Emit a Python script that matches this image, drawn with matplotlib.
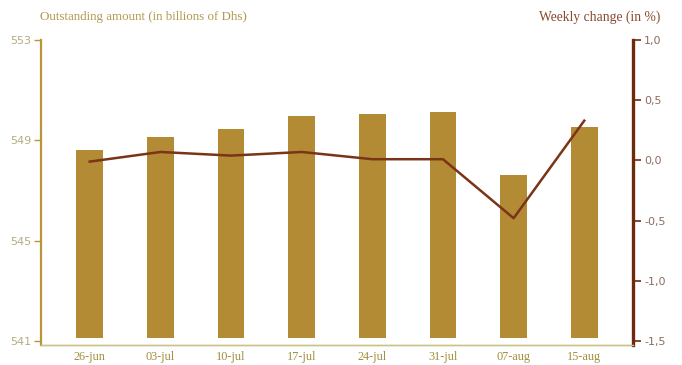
import matplotlib.pyplot as plt
from matplotlib.ticker import FuncFormatter

# Weekly outstanding amount (billions of Dhs) and week-on-week change (%)
weeks = ["26-jun", "03-jul", "10-jul", "17-jul", "24-jul", "31-jul", "07-aug", "15-aug"]
outstanding = [548.61, 549.12, 549.45, 549.96, 550.03, 550.13, 547.63, 549.52]
weekly_change = [-0.01, 0.07, 0.04, 0.07, 0.01, 0.01, -0.48, 0.33]

left_ticks = [541, 545, 549, 553]
right_ticks = [-1.5, -1.0, -0.5, 0.0, 0.5, 1.0]

bar_color = "#b38b35"
line_color = "#7a3418"
left_axis_color = "#b8973c"
right_axis_color = "#6e2a0c"
frame_color = "#c9c389"

fig = plt.figure(figsize=(6.82, 3.65), dpi=100)
ax = fig.add_axes([41 / 682, 1 - 345 / 365, (633 - 41) / 682, (345 - 40) / 365])
ax2 = ax.twinx()

# bars sit a little above the 541 baseline, the frame a little below it
bar_base = 541.1
x = range(len(weeks))
ax.bar(x, [v - bar_base for v in outstanding], bottom=bar_base,
       width=0.38, color=bar_color, zorder=2)
ax2.plot(x, weekly_change, color=line_color, linewidth=1.8, zorder=3)

ax.set_xlim(-0.69, len(weeks) - 0.31)
ax.set_ylim(540.84, 553)
ax2.set_ylim(-1.533, 1.0)
ax.set_yticks(left_ticks)
ax2.set_yticks(right_ticks)
ax2.yaxis.set_major_formatter(FuncFormatter(lambda v, p: f"{v:.1f}".replace(".", ",")))

ax.set_xticks(list(x))
ax.set_xticklabels(weeks, family="Liberation Serif", fontsize=8.8, color="#a08f3c")
ax.tick_params(axis="x", length=0, pad=4)

ax.tick_params(axis="y", direction="out", length=5, width=1, color=left_axis_color,
               labelsize=8, labelcolor="#b7ab82", pad=2)
ax2.tick_params(axis="y", direction="out", length=6, width=1.2, color=right_axis_color,
                labelsize=8, labelcolor="#8c6b5c", pad=2)

for a in (ax, ax2):
    a.spines["top"].set_visible(False)
    a.spines["bottom"].set_color(frame_color)
    a.spines["bottom"].set_linewidth(1.0)
ax.spines["right"].set_visible(False)
ax2.spines["left"].set_visible(False)
ax.spines["left"].set_color(left_axis_color)
ax.spines["left"].set_linewidth(1.6)
ax2.spines["right"].set_color(right_axis_color)
ax2.spines["right"].set_linewidth(2.4)

fig.text(40 / 682, 1 - 17 / 365, "Outstanding amount (in billions of Dhs)",
         family="Liberation Serif", fontsize=9.4, color="#b09a50", va="center", ha="left")
fig.text(660 / 682, 1 - 17 / 365, "Weekly change (in %)",
         family="Liberation Serif", fontsize=9.8, color="#8a4a30", va="center", ha="right")

fig.savefig("out.png", dpi=100)
